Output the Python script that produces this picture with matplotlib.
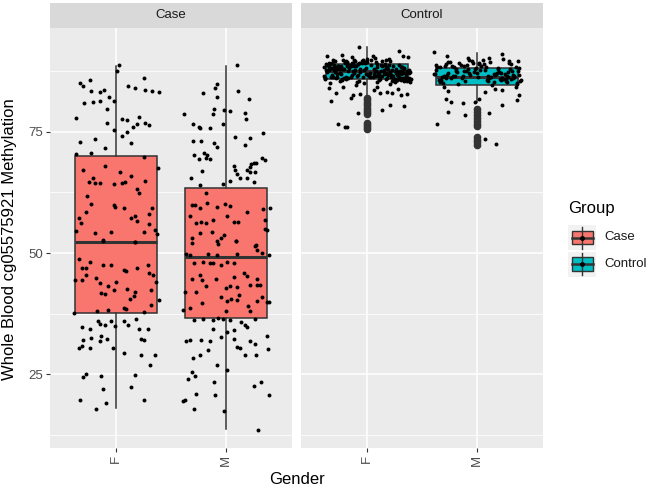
import numpy as np
import matplotlib
matplotlib.use("Agg")
import matplotlib.pyplot as plt
from matplotlib.patches import Rectangle

plt.rcParams['font.family'] = ['Liberation Sans', 'DejaVu Sans']

# ---- data ----
groups = ['Case', 'Control']
genders = ['F', 'M']
group_colors = {'Case': '#F8766D', 'Control': '#00BFC4'}

# box stats: q1, median, q3, lower whisker, upper whisker
case_q1 = [37.7, 36.7]
case_med = [52.3, 49.1]
case_q3 = [70.0, 63.5]
case_lo = [18.0, 13.7]
case_hi = [88.6, 88.6]

ctrl_q1 = [85.8, 84.6]
ctrl_med = [87.5, 86.3]
ctrl_q3 = [89.0, 88.1]
ctrl_lo = [82.6, 81.2]
ctrl_hi = [92.4, 91.3]

ctrl_f_out = [82.0, 81.5, 81.0, 80.5, 80.0, 79.5, 79.0, 78.6, 76.9, 76.4, 76.0, 75.6]
ctrl_m_out = [79.6, 79.0, 78.4, 77.8, 77.2, 76.6, 76.2, 74.0, 73.4, 72.8, 72.3]

# jittered points: values and horizontal jitter
case_f_y = [88.7, 87.6, 85.0, 84.4, 85.7, 83.5, 81.0, 81.2, 83.2, 83.7,
            81.3, 82.2, 79.8, 81.4, 84.5, 84.0, 86.1, 83.7, 83.5, 83.2,
            77.9, 72.9, 73.5, 76.9, 75.3, 77.6, 77.5, 74.2, 74.9, 75.9,
            76.7, 78.0, 76.9, 76.3, 72.6, 71.6, 70.4, 70.7,
            67.1, 64.7, 65.4, 64.5, 64.5, 68.0, 61.7, 60.1, 58.5, 56.2,
            57.3, 54.6, 54.2, 54.4, 66.7, 64.2, 64.5, 64.7, 65.9, 63.3,
            62.3, 64.9, 69.7, 67.6, 59.9, 59.4, 59.2, 57.3, 57.6, 56.6,
            58.0, 59.2, 56.0, 54.7, 54.0, 54.4, 52.3, 52.5,
            52.6, 52.2, 48.8, 46.9, 46.9, 48.2, 45.5, 44.5, 44.4, 44.8,
            43.8, 47.6, 47.6, 41.8, 41.6, 43.3, 42.4, 44.0, 46.4, 46.2,
            42.6, 42.0, 46.9, 47.6, 45.9, 45.5, 44.0, 42.4, 40.5, 38.7,
            38.5, 41.1, 37.8, 39.3, 40.4, 38.0, 38.2, 37.6,
            34.7, 34.4, 36.0, 35.4, 35.2, 35.0, 36.0, 35.9, 35.2, 36.3,
            34.4, 34.4, 32.1, 32.5, 32.8, 31.8, 32.3, 30.4, 30.8, 30.4,
            30.4, 29.4, 32.3, 32.1, 28.9, 29.0, 27.0, 24.4, 25.1, 24.6,
            24.9, 22.0, 22.4, 19.6, 17.9, 19.1, 19.8]
case_f_x = [0.03, 0.01, -0.33, -0.30, -0.24, -0.23, -0.29, -0.21, -0.15, -0.11,
            -0.15, -0.06, -0.08, -0.02, 0.11, 0.17, 0.25, 0.26, 0.33, 0.39,
            -0.36, -0.33, -0.19, -0.08, -0.02, 0.05, 0.10, 0.05, 0.10, 0.15,
            0.19, 0.21, 0.26, 0.30, 0.14, -0.10, -0.36, -0.23,
            -0.30, -0.25, -0.21, -0.19, -0.15, -0.10, -0.26, -0.23, -0.27, -0.32,
            -0.34, -0.36, -0.19, -0.05, 0.04, -0.02, 0.05, 0.08, 0.14, 0.19,
            0.21, 0.26, 0.25, 0.38, -0.02, -0.01, 0.07, 0.14, 0.17, 0.19,
            0.30, 0.33, 0.30, 0.35, 0.37, 0.25, 0.17, -0.12,
            -0.12, 0.17, -0.34, -0.31, -0.27, -0.24, -0.27, -0.37, -0.31, -0.18,
            -0.15, -0.12, -0.05, -0.14, -0.10, -0.07, -0.02, 0.00, 0.07, 0.09,
            0.10, 0.17, 0.19, 0.29, 0.30, 0.34, 0.36, 0.32, 0.13, 0.07,
            0.09, 0.16, 0.25, 0.32, 0.39, -0.17, -0.07, -0.38,
            -0.31, -0.24, -0.16, -0.15, -0.10, -0.01, -0.05, 0.07, 0.11, 0.18,
            0.21, 0.29, -0.30, -0.23, -0.14, -0.15, -0.08, -0.34, -0.31, -0.24,
            -0.03, 0.07, 0.23, 0.25, 0.23, 0.35, 0.31, -0.30, -0.27, -0.14,
            0.17, -0.12, 0.14, -0.33, -0.18, -0.09, 0.25]

case_m_y = [88.7, 84.8, 84.1, 82.9, 82.1, 83.4, 81.8, 78.6, 79.6, 79.5,
            79.3, 78.6, 76.6, 76.0, 75.7, 75.8, 76.6, 78.9, 77.7, 74.0,
            73.8, 74.8, 73.1, 73.1, 72.6, 71.9, 72.3, 70.2, 70.7, 70.2,
            69.3, 69.5, 69.3, 67.0, 65.4, 67.9, 67.2, 66.3, 67.2, 67.8,
            68.3, 68.5, 68.6, 69.5, 69.2, 66.8, 66.8, 65.4, 65.4, 64.7,
            64.0, 64.3, 64.8,
            62.4, 59.9, 59.9, 59.2, 60.4, 59.5, 60.1, 59.7, 58.4, 59.0,
            59.2, 57.6, 56.2, 56.4, 56.2, 56.8, 57.6, 56.4, 56.4, 56.8,
            54.2, 54.4, 53.0, 53.7, 52.5, 53.0, 54.9, 54.7, 51.6,
            52.1, 52.4, 51.8, 52.4, 51.5, 50.7, 49.7, 49.5, 49.7, 49.5,
            49.7, 50.0, 49.5, 47.9, 48.1, 47.9, 47.9, 47.6, 48.1, 47.9,
            45.5, 44.6, 44.5, 44.6, 45.1, 45.9, 45.3, 44.6, 43.5, 43.5,
            43.5, 41.9, 41.9, 43.1, 42.8, 43.1, 43.0, 41.4, 40.9, 40.2,
            40.5, 40.4, 40.2, 40.9, 40.0, 40.0, 39.6, 38.7, 38.0, 39.0,
            38.0, 38.2,
            36.1, 36.3, 36.1, 36.6, 36.3, 36.1, 35.7, 35.2, 34.7, 36.3,
            34.2, 33.8, 34.3, 32.7, 31.8, 32.0, 32.1, 31.8, 32.3, 31.8,
            31.3, 32.8, 30.1, 29.0, 28.3, 30.7, 30.4, 29.0, 29.0, 30.2,
            27.0, 25.8, 25.4, 24.7, 24.0, 23.5, 22.6, 23.5, 21.0, 20.8,
            20.7, 19.4, 19.6, 17.9, 17.5, 13.6]
case_m_x = [0.10, -0.08, -0.10, -0.21, -0.08, 0.11, 0.21, -0.38, -0.11, -0.02,
            0.04, -0.12, -0.30, -0.25, -0.24, -0.15, -0.03, 0.17, 0.18, 0.08,
            0.22, 0.34, -0.30, -0.23, -0.11, -0.08, 0.17, -0.29, -0.20, -0.17,
            -0.25, -0.18, -0.15, -0.22, -0.32, 0.07, 0.08, 0.10, 0.19, 0.22,
            0.23, 0.25, 0.27, 0.33, 0.35, 0.22, 0.26, 0.13, 0.19, 0.25,
            -0.24, -0.03, 0.04,
            -0.18, -0.31, -0.28, -0.24, -0.17, -0.08, -0.01, 0.04, 0.19, 0.34,
            0.40, -0.33, -0.27, -0.23, -0.18, -0.12, 0.01, 0.07, 0.11, 0.35,
            -0.24, -0.13, -0.05, -0.02, 0.09, -0.31, 0.35, 0.37, 0.27,
            -0.31, -0.08, -0.07, 0.09, 0.26, 0.28, -0.36, -0.33, -0.16, -0.08,
            0.10, 0.33, 0.39, -0.29, -0.21, -0.15, -0.12, -0.05, 0.01, 0.07,
            -0.24, -0.31, -0.22, -0.09, 0.07, 0.16, 0.19, 0.28, 0.22, 0.28,
            0.31, -0.37, -0.27, -0.18, 0.00, 0.04, 0.10, 0.12, -0.05, 0.01,
            0.05, 0.10, 0.28, 0.33, 0.37, 0.39, -0.22, -0.33, 0.00, 0.20,
            0.22, -0.39,
            -0.29, -0.21, -0.12, -0.07, -0.03, 0.04, 0.14, 0.17, 0.19, 0.26,
            0.07, 0.01, -0.12, -0.05, -0.36, -0.33, -0.23, -0.15, 0.07, 0.22,
            0.26, 0.37, -0.16, -0.24, -0.30, 0.10, 0.13, 0.17, 0.27, 0.38,
            -0.08, 0.01, -0.31, -0.28, -0.35, -0.11, 0.25, 0.32, -0.27, -0.10,
            0.39, -0.39, -0.37, -0.29, -0.02, 0.29]

ctrl_f_y = [88.1, 86.4, 89.2, 87.0, 85.8, 88.7, 87.6, 86.9, 89.8, 85.3,
            87.9, 86.1, 88.4, 89.5, 86.7, 87.3, 85.6, 88.9, 87.8, 86.3,
            89.1, 85.9, 87.2, 88.5, 86.6, 90.2, 87.5, 86.0, 88.2, 89.6,
            85.4, 87.7, 88.8, 86.2, 87.1, 89.3, 86.8, 88.0, 85.7, 87.4,
            88.6, 86.5, 89.0, 87.9, 85.2, 88.3, 86.9, 89.7, 87.0, 86.4,
            87.6, 88.9, 85.9, 86.7, 89.4, 87.3, 88.1, 86.2, 90.0, 85.6,
            88.4, 87.1, 86.0, 89.2, 87.8, 85.5, 88.6, 86.8, 87.5, 89.9,
            86.3, 88.0, 87.2, 85.8, 89.1, 86.6, 88.7, 87.4, 85.1, 88.2,
            87.0, 89.5, 86.1, 88.5, 87.7, 86.4, 89.3, 85.9, 88.8, 87.3,
            84.9, 88.3, 87.6, 86.9, 90.4, 86.0, 88.0, 87.1, 89.6, 86.5,
            88.9, 85.7, 87.8, 86.3, 89.0, 87.5, 85.4, 88.6, 86.8, 89.4,
            87.2, 86.1, 88.4, 87.9, 85.6, 89.8, 86.7, 88.1, 87.0, 85.3,
            89.2, 86.4, 87.7, 88.7, 86.0, 87.4, 89.1, 85.8, 88.5, 86.6,
            87.3, 88.2, 85.5, 89.7, 86.9, 88.0, 87.6, 86.2, 90.6, 87.1,
            85.0, 88.8, 86.5, 87.9, 89.3, 86.1, 88.4, 87.5, 85.7, 89.0,
            86.8, 87.2, 88.6, 85.9, 89.5, 87.8, 86.3, 88.1, 87.0, 84.7,
            88.3, 86.7, 89.9, 87.4, 86.0, 88.9, 85.6, 87.7, 89.2, 86.4,
            87.1, 88.5, 86.2, 85.3, 88.0, 87.6, 89.6, 86.9, 88.7, 87.3,
            86.6, 89.1, 87.9, 85.8, 88.2, 86.1, 87.5, 90.1, 86.8, 88.4,
            85.5, 87.0, 88.8, 86.5, 89.4, 87.2, 85.9, 88.6, 87.8, 86.3,
            92.5, 91.6, 90.6, 90.8, 90.6, 90.5, 83.0, 81.4, 82.6, 81.9,
            82.8, 83.0, 83.2, 83.0, 82.6, 82.8, 84.3, 83.7, 80.5, 80.3,
            78.9, 79.5, 76.6, 75.9, 75.9, 84.0, 83.8, 84.2]
ctrl_f_x = [-0.31, 0.12, -0.05, 0.27, -0.38, 0.04, -0.17, 0.35, -0.22, 0.09,
            0.19, -0.28, 0.31, -0.11, 0.02, -0.36, 0.24, -0.08, 0.38, -0.19,
            -0.02, 0.29, -0.25, 0.14, -0.39, 0.07, -0.13, 0.33, -0.30, 0.21,
            0.36, -0.06, 0.16, -0.33, 0.26, -0.20, 0.01, -0.27, 0.11, 0.39,
            -0.15, 0.23, -0.34, 0.06, -0.09, 0.32, -0.24, 0.17, -0.01, 0.28,
            0.13, -0.37, 0.25, -0.14, 0.08, -0.29, 0.34, -0.04, 0.20, -0.23,
            -0.35, 0.03, 0.30, -0.18, 0.15, -0.07, -0.26, 0.22, 0.37, -0.12,
            0.05, -0.21, 0.18, 0.40, -0.32, 0.10, -0.16, 0.26, -0.03, 0.33,
            -0.27, 0.14, 0.36, -0.10, -0.35, 0.24, 0.00, -0.19, 0.29, -0.06,
            0.21, -0.39, 0.07, 0.31, -0.14, 0.18, -0.23, 0.38, -0.29, 0.11,
            -0.08, 0.27, -0.30, 0.03, 0.16, -0.36, 0.34, -0.12, 0.22, -0.02,
            0.30, -0.17, 0.09, -0.25, 0.39, -0.04, 0.19, -0.33, 0.06, 0.25,
            -0.20, 0.35, -0.11, 0.13, -0.38, 0.28, -0.07, 0.17, -0.26, 0.02,
            0.32, -0.01, 0.23, -0.31, 0.10, -0.22, 0.37, -0.15, 0.05, 0.15,
            -0.34, 0.20, -0.09, 0.26, -0.18, 0.38, -0.28, 0.08, 0.31, -0.13,
            0.01, 0.33, -0.24, 0.12, -0.05, -0.37, 0.22, -0.16, 0.29, -0.10,
            0.17, -0.32, 0.04, 0.36, -0.21, 0.09, 0.27, -0.03, -0.35, 0.14,
            -0.12, 0.24, -0.27, 0.39, -0.06, 0.30, -0.19, 0.11, -0.30, 0.21,
            0.07, -0.14, 0.34, -0.23, 0.18, -0.38, 0.26, 0.00, -0.08, 0.32,
            -0.25, 0.16, -0.36, 0.28, -0.02, 0.10, 0.35, -0.18, 0.23, -0.31,
            -0.07, 0.29, -0.36, -0.23, 0.33, 0.37, -0.28, -0.33, -0.13, -0.15,
            -0.06, 0.12, 0.18, 0.23, 0.31, 0.36, 0.09, 0.06, 0.21, 0.34,
            -0.08, 0.14, -0.26, -0.20, -0.18, -0.35, 0.28, -0.22]

ctrl_m_y = [87.2, 85.6, 88.4, 86.1, 89.0, 86.8, 85.2, 88.0, 87.5, 86.4,
            88.7, 85.9, 87.0, 89.3, 86.3, 84.9, 87.8, 86.6, 88.2, 85.4,
            86.0, 88.9, 87.4, 85.7, 89.5, 86.9, 88.5, 85.1, 87.1, 86.5,
            89.1, 87.6, 86.2, 88.3, 85.8, 87.9, 86.7, 84.7, 88.6, 87.3,
            85.5, 88.1, 86.4, 89.7, 87.0, 85.3, 88.8, 86.1, 87.6, 89.2,
            86.8, 85.0, 88.4, 87.2, 86.0, 89.4, 85.7, 87.7, 88.0, 86.5,
            88.9, 86.3, 85.6, 87.4, 89.0, 86.9, 85.2, 88.2, 87.1, 86.6,
            87.8, 88.6, 85.9, 86.2, 89.6, 87.5, 85.4, 88.3, 86.7, 87.0,
            85.8, 89.1, 87.3, 86.4, 88.7, 85.5, 87.9, 86.0, 88.5, 84.8,
            87.6, 86.1, 89.3, 85.7, 88.0, 86.8, 87.2, 89.8, 86.3, 88.4,
            91.4, 90.7, 90.3, 89.2, 90.3, 91.0, 90.1, 89.6, 84.3, 83.5,
            81.7, 81.2, 81.0, 81.2, 81.7, 83.3, 83.8, 83.6, 84.3, 82.6,
            81.5, 80.5, 78.4, 79.1, 78.8, 76.7, 73.6, 72.5]
ctrl_m_x = [0.22, -0.35, 0.08, -0.14, 0.31, -0.27, 0.15, -0.02, 0.37, -0.20,
            -0.09, 0.26, -0.38, 0.12, 0.34, -0.17, 0.03, -0.30, 0.19, 0.39,
            -0.24, 0.06, 0.28, -0.33, -0.05, 0.17, -0.12, 0.36, -0.26, 0.10,
            0.29, -0.19, 0.01, -0.36, 0.24, -0.08, 0.33, 0.14, -0.29, 0.20,
            -0.11, 0.38, -0.22, 0.05, -0.39, 0.27, -0.15, 0.11, 0.32, -0.04,
            0.16, -0.31, 0.35, -0.07, 0.23, -0.25, 0.09, -0.37, 0.30, -0.13,
            -0.28, 0.13, 0.40, -0.18, 0.02, 0.25, -0.34, -0.01, 0.18, 0.34,
            0.07, -0.23, 0.21, -0.32, 0.37, -0.10, 0.26, -0.21, -0.06, 0.15,
            0.31, -0.16, -0.03, 0.27, -0.37, 0.10, 0.19, -0.28, 0.04, 0.36,
            -0.12, 0.33, -0.26, 0.22, -0.19, 0.38, 0.00, -0.07, 0.28, -0.34,
            -0.39, -0.27, -0.08, 0.02, 0.11, 0.23, 0.24, 0.29, -0.30, -0.26,
            -0.28, -0.24, -0.13, -0.02, 0.02, 0.07, 0.16, 0.23, 0.35, 0.38,
            0.36, 0.23, -0.11, -0.26, 0.11, -0.36, 0.07, 0.17]

# ---- figure ----
W, H = 649, 487
fig = plt.figure(figsize=(W / 100, H / 100), dpi=100)
fig.patch.set_facecolor('white')

edge = '#333333'
panel_bg = '#EBEBEB'


def px_rect(x0, y0, x1, y1):
    return [x0 / W, 1 - y1 / H, (x1 - x0) / W, (y1 - y0) / H]


panels = {
    'Case': dict(q1=case_q1, med=case_med, q3=case_q3, lo=case_lo, hi=case_hi,
                 out=[[], []], pts=[(case_f_x, case_f_y), (case_m_x, case_m_y)]),
    'Control': dict(q1=ctrl_q1, med=ctrl_med, q3=ctrl_q3, lo=ctrl_lo, hi=ctrl_hi,
                    out=[ctrl_f_out, ctrl_m_out],
                    pts=[(ctrl_f_x, ctrl_f_y), (ctrl_m_x, ctrl_m_y)]),
}

lefts = [50, 301]
for i, g in enumerate(groups):
    d = panels[g]
    ax = fig.add_axes(px_rect(lefts[i], 28, lefts[i] + 242, 448))
    ax.set_facecolor(panel_bg)
    for s in ax.spines.values():
        s.set_visible(False)

    stats = []
    for j in range(2):
        stats.append(dict(q1=d['q1'][j], med=d['med'][j], q3=d['q3'][j],
                          whislo=d['lo'][j], whishi=d['hi'][j], fliers=d['out'][j]))
    ax.bxp(stats, positions=[1, 2], widths=0.75, patch_artist=True, showcaps=False,
           manage_ticks=False,
           boxprops=dict(facecolor=group_colors[g], edgecolor=edge, lw=1.1),
           medianprops=dict(color=edge, lw=2.2),
           whiskerprops=dict(color=edge, lw=1.1),
           flierprops=dict(marker='o', markerfacecolor=edge, markeredgecolor=edge,
                           markersize=4.5))

    for j, (xo, yv) in enumerate(d['pts']):
        ax.scatter(np.array(xo) + j + 1, yv, s=8, color='black', lw=0, zorder=5)

    ax.set_xlim(0.4, 2.6)
    ax.set_ylim(9.8, 96.4)
    ax.set_yticks([25, 50, 75])
    ax.set_yticks([12.5, 37.5, 62.5, 87.5], minor=True)
    ax.set_xticks([1, 2])
    ax.set_xticklabels(genders, rotation=90)
    ax.grid(True, which='major', color='white', lw=1.1)
    ax.grid(True, which='minor', axis='y', color='white', lw=0.55)
    ax.set_axisbelow(True)
    ax.tick_params(which='major', length=3, width=0.8, color=edge,
                   labelcolor='#4D4D4D', labelsize=9.5, pad=2)
    ax.tick_params(which='minor', length=0)
    if i > 0:
        ax.tick_params(axis='y', left=False, labelleft=False)

    # facet strip
    sax = fig.add_axes(px_rect(lefts[i], 3, lefts[i] + 242, 28))
    sax.set_facecolor('#D9D9D9')
    sax.set_xticks([])
    sax.set_yticks([])
    for s in sax.spines.values():
        s.set_visible(False)
    sax.text(0.5, 0.5, g, ha='center', va='center', fontsize=9.5, color='#1A1A1A',
             transform=sax.transAxes)

fig.text(10 / W, 1 - 239 / H, 'Whole Blood cg05575921 Methylation', rotation=90,
         ha='center', va='center', fontsize=12)
fig.text(296.5 / W, 1 - 479 / H, 'Gender', ha='center', va='center', fontsize=12)

# legend
lax = fig.add_axes([0, 0, 1, 1])
lax.set_xlim(0, W)
lax.set_ylim(H, 0)
lax.axis('off')
lax.text(568, 209, 'Group', ha='left', va='center', fontsize=12)
for k, g in enumerate(groups):
    cy = 237.5 + k * 26.5
    lax.add_patch(Rectangle((568, cy - 12.5), 28, 25, facecolor='#F2F2F2', lw=0))
    lax.plot([582, 582], [cy - 11, cy + 11], color=edge, lw=1.0)
    lax.add_patch(Rectangle((571.5, cy - 6.8), 21, 13.6, facecolor=group_colors[g],
                            edgecolor=edge, lw=1.0))
    lax.plot([571.5, 592.5], [cy, cy], color=edge, lw=1.8)
    lax.plot([582], [cy], 'o', color='black', ms=2.5)
    lax.text(604, cy, g, ha='left', va='center', fontsize=9.5, color='#1A1A1A')

fig.savefig('out.png', dpi=100)
